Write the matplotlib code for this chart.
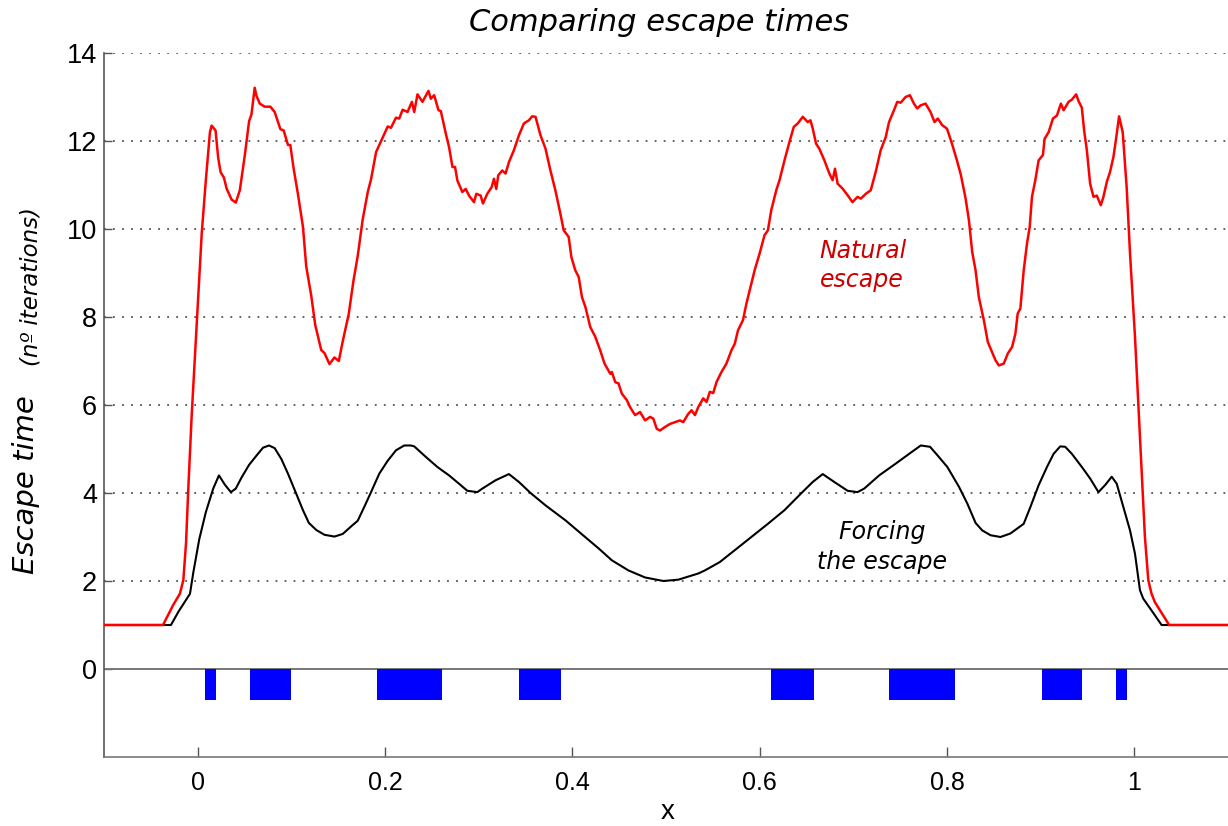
import matplotlib
matplotlib.use("Agg")
import matplotlib.pyplot as plt

# red curve: natural escape time
natural_x = [-0.100, -0.037, -0.026, -0.019, -0.0153, -0.0124, -0.0100, -0.0064, -0.0011, 0.0043,
             0.0088, 0.0131, 0.0149, 0.0191, 0.0219, 0.0245, 0.0280, 0.0309, 0.0362, 0.0407,
             0.0450, 0.0503, 0.0549, 0.0574, 0.0609, 0.0627, 0.0663, 0.0716, 0.0776, 0.0822,
             0.0883, 0.0918, 0.0964, 0.0989, 0.1024, 0.1070, 0.1124, 0.1159, 0.1213, 0.1255,
             0.1319, 0.1354, 0.1407, 0.1460, 0.1507, 0.1549, 0.1613, 0.1663, 0.1709, 0.1762,
             0.1816, 0.1851, 0.1905, 0.1958, 0.2029, 0.2064, 0.2117, 0.2152, 0.2188, 0.2241,
             0.2287, 0.2312, 0.2347, 0.2400, 0.2464, 0.2489, 0.2525, 0.2571, 0.2596, 0.2649,
             0.2684, 0.2720, 0.2748, 0.2773, 0.2826, 0.2862, 0.2897, 0.2950, 0.2975, 0.3021,
             0.3046, 0.3092, 0.3138, 0.3163, 0.3188, 0.3209, 0.3252, 0.3287, 0.3323, 0.3376,
             0.3430, 0.3483, 0.3536, 0.3571, 0.3607, 0.3660, 0.3713, 0.3766, 0.3819, 0.3872,
             0.3908, 0.3961, 0.3990, 0.4032, 0.4068, 0.4103, 0.4139, 0.4192, 0.4245, 0.4298,
             0.4344, 0.4405, 0.4422, 0.4458, 0.4493, 0.4528, 0.4582, 0.4617, 0.4670, 0.4723,
             0.4777, 0.4830, 0.4865, 0.4901, 0.4936, 0.4989, 0.5043, 0.5096, 0.5149, 0.5184,
             0.5238, 0.5273, 0.5309, 0.5344, 0.5397, 0.5433, 0.5468, 0.5504, 0.5539, 0.5592,
             0.5645, 0.5698, 0.5734, 0.5769, 0.5822, 0.5858, 0.5911, 0.5946, 0.5999, 0.6052,
             0.6088, 0.6124, 0.6177, 0.6212, 0.6265, 0.6318, 0.6364, 0.6407, 0.6460, 0.6513,
             0.6542, 0.6567, 0.6602, 0.6638, 0.6691, 0.6744, 0.6779, 0.6804, 0.6832, 0.6885,
             0.6938, 0.6991, 0.7045, 0.7080, 0.7133, 0.7186, 0.7239, 0.7292, 0.7346, 0.7381,
             0.7434, 0.7469, 0.7505, 0.7558, 0.7604, 0.7647, 0.7682, 0.7718, 0.7771, 0.7824,
             0.7867, 0.7902, 0.7949, 0.8000, 0.8053, 0.8106, 0.8149, 0.8198, 0.8234, 0.8269,
             0.8305, 0.8340, 0.8393, 0.8436, 0.8482, 0.8517, 0.8553, 0.8606, 0.8649, 0.8695,
             0.8730, 0.8755, 0.8783, 0.8819, 0.8854, 0.8883, 0.8907, 0.8943, 0.8978, 0.9024,
             0.9042, 0.9085, 0.9131, 0.9174, 0.9216, 0.9245, 0.9298, 0.9333, 0.9379, 0.9404,
             0.9439, 0.9464, 0.9493, 0.9528, 0.9564, 0.9599, 0.9642, 0.9670, 0.9706, 0.9741,
             0.9777, 0.9805, 0.9837, 0.9876, 0.9918, 0.9954, 1.0007, 1.0060, 1.0113, 1.0149,
             1.0184, 1.0219, 1.0372, 1.100]
natural_y = [1.00, 1.00, 1.46, 1.71, 2.02, 2.87, 4.10, 5.76, 7.82, 9.89,
             11.13, 12.20, 12.35, 12.24, 11.62, 11.29, 11.17, 10.92, 10.67, 10.60,
             10.88, 11.67, 12.45, 12.60, 13.21, 13.03, 12.85, 12.78, 12.78, 12.66,
             12.27, 12.24, 11.91, 11.91, 11.38, 10.80, 10.05, 9.15, 8.48, 7.82,
             7.25, 7.18, 6.93, 7.08, 7.00, 7.45, 8.07, 8.82, 9.39, 10.22,
             10.84, 11.13, 11.75, 12.00, 12.33, 12.30, 12.53, 12.51, 12.71, 12.66,
             12.89, 12.66, 13.06, 12.89, 13.14, 12.96, 13.04, 12.70, 12.68, 12.17,
             11.86, 11.41, 11.41, 11.10, 10.84, 10.91, 10.76, 10.61, 10.80, 10.76,
             10.58, 10.80, 10.95, 11.14, 10.91, 11.22, 11.33, 11.26, 11.52, 11.79,
             12.13, 12.40, 12.47, 12.56, 12.55, 12.13, 11.83, 11.33, 10.88, 10.35,
             9.97, 9.82, 9.36, 9.06, 8.91, 8.45, 8.23, 7.77, 7.55, 7.24,
             6.94, 6.71, 6.75, 6.52, 6.49, 6.26, 6.11, 5.95, 5.77, 5.84,
             5.65, 5.73, 5.69, 5.46, 5.42, 5.50, 5.57, 5.61, 5.65, 5.61,
             5.80, 5.88, 5.77, 5.95, 6.15, 6.07, 6.30, 6.27, 6.52, 6.75,
             6.94, 7.24, 7.39, 7.70, 7.93, 8.30, 8.76, 9.06, 9.44, 9.86,
             9.97, 10.43, 10.88, 11.11, 11.56, 11.98, 12.32, 12.40, 12.55, 12.43,
             12.47, 12.28, 11.94, 11.82, 11.56, 11.26, 11.11, 11.37, 11.03, 10.92,
             10.77, 10.61, 10.73, 10.69, 10.80, 10.88, 11.30, 11.79, 12.09, 12.43,
             12.70, 12.89, 12.87, 13.00, 13.04, 12.85, 12.74, 12.81, 12.85, 12.66,
             12.43, 12.51, 12.36, 12.28, 11.94, 11.56, 11.22, 10.70, 10.20, 9.48,
             9.06, 8.45, 7.93, 7.43, 7.20, 7.02, 6.90, 6.94, 7.17, 7.32,
             7.62, 8.08, 8.19, 9.06, 9.67, 10.05, 10.73, 11.11, 11.56, 11.68,
             12.05, 12.20, 12.51, 12.58, 12.85, 12.70, 12.89, 12.94, 13.06, 12.91,
             12.76, 12.24, 11.79, 11.03, 10.73, 10.76, 10.54, 10.73, 11.07, 11.30,
             11.64, 12.05, 12.56, 12.20, 10.95, 9.44, 7.55, 5.27, 3.00, 2.02,
             1.71, 1.52, 1.00, 1.00]

# black curve: forced escape time
forced_x = [-0.100, -0.0285, -0.0206, -0.0082, -0.0046, 0.0017, 0.0088, 0.0166, 0.0227, 0.0290,
            0.0354, 0.0407, 0.0468, 0.0549, 0.0628, 0.0698, 0.0762, 0.0822, 0.0894, 0.0964,
            0.1053, 0.1124, 0.1187, 0.1266, 0.1354, 0.1461, 0.1549, 0.1638, 0.1709, 0.1780,
            0.1851, 0.1939, 0.2028, 0.2117, 0.2205, 0.2276, 0.2312, 0.2436, 0.2560, 0.2684,
            0.2791, 0.2879, 0.2986, 0.3039, 0.3181, 0.3323, 0.3430, 0.3554, 0.3713, 0.3926,
            0.4103, 0.4281, 0.4422, 0.4599, 0.4777, 0.4972, 0.5131, 0.5344, 0.5415, 0.5574,
            0.5734, 0.5911, 0.6088, 0.6265, 0.6442, 0.6566, 0.6673, 0.6797, 0.6939, 0.7045,
            0.7116, 0.7276, 0.7454, 0.7596, 0.7720, 0.7819, 0.7897, 0.8004, 0.8128, 0.8217,
            0.8305, 0.8376, 0.8465, 0.8571, 0.8677, 0.8819, 0.8890, 0.8979, 0.9067, 0.9138,
            0.9209, 0.9262, 0.9333, 0.9440, 0.9528, 0.9617, 0.9688, 0.9759, 0.9812, 0.9883,
            0.9954, 1.0007, 1.0060, 1.0095, 1.0184, 1.0291, 1.100]
forced_y = [1.00, 1.00, 1.30, 1.71, 2.20, 2.95, 3.57, 4.10, 4.40, 4.19,
            4.02, 4.10, 4.35, 4.64, 4.85, 5.03, 5.08, 5.02, 4.77, 4.44,
            3.98, 3.61, 3.32, 3.16, 3.05, 3.01, 3.07, 3.24, 3.37, 3.69,
            4.02, 4.44, 4.73, 4.97, 5.08, 5.08, 5.06, 4.82, 4.59, 4.40,
            4.21, 4.05, 4.02, 4.10, 4.29, 4.43, 4.25, 4.00, 3.72, 3.38,
            3.06, 2.74, 2.47, 2.24, 2.08, 2.00, 2.03, 2.17, 2.24, 2.43,
            2.70, 3.00, 3.30, 3.61, 3.99, 4.25, 4.43, 4.25, 4.05, 4.02,
            4.10, 4.40, 4.67, 4.89, 5.08, 5.05, 4.86, 4.59, 4.14, 3.76,
            3.32, 3.15, 3.04, 3.00, 3.08, 3.30, 3.68, 4.18, 4.59, 4.89,
            5.06, 5.05, 4.89, 4.59, 4.33, 4.02, 4.18, 4.37, 4.21, 3.68,
            3.15, 2.62, 1.79, 1.60, 1.33, 1.00, 1.00]

# blue intervals under the axis
band_start = [0.0077, 0.0556, 0.1918, 0.3428, 0.6124, 0.7386, 0.9009, 0.9805]
band_end = [0.0195, 0.0992, 0.2610, 0.3880, 0.6585, 0.8084, 0.9444, 0.9925]
band_depth = -0.7

x_ticks = [0, 0.2, 0.4, 0.6, 0.8, 1]
x_tick_labels = ["0", "0.2", "0.4", "0.6", "0.8", "1"]
y_ticks = [0, 2, 4, 6, 8, 10, 12, 14]

# no handwriting font available, oblique DejaVu is the closest in width
hand = "DejaVu Sans"
axis_grey = "#555555"

fig = plt.figure(figsize=(12.28, 8.26), dpi=100)
ax = fig.add_axes([104 / 1228, 69 / 826, 1 - 104 / 1228, (757 - 53) / 826])

# dotted grid lines (not at zero, which is a solid line)
for yv in y_ticks[1:]:
    ax.axhline(yv, color=axis_grey, lw=1.3, linestyle=(0, (1, 4)), zorder=1)
ax.axhline(0, color="#777777", lw=1.4, zorder=2)

# blue bars
widths = [e - s for s, e in zip(band_start, band_end)]
ax.bar(band_start, [band_depth] * len(band_start), width=widths, align="edge",
       color="#0000ff", edgecolor="none", zorder=3)

ax.plot(forced_x, forced_y, color="black", lw=1.5, zorder=4)
ax.plot(natural_x, natural_y, color="#ff0000", lw=1.8, zorder=5)

ax.set_xlim(-0.1, 1.1)
ax.set_ylim(-2, 14)
ax.set_xticks(x_ticks)
ax.set_xticklabels(x_tick_labels, fontname="Liberation Sans", fontsize=18)
ax.set_yticks(y_ticks)
ax.set_yticklabels([str(v) for v in y_ticks], fontname="Liberation Sans", fontsize=19.5)
ax.tick_params(axis="x", direction="in", length=7, width=1, color=axis_grey, pad=10)
ax.tick_params(axis="y", direction="in", length=6, width=1, color=axis_grey, pad=5)

for side in ["top", "right"]:
    ax.spines[side].set_visible(False)
ax.spines["left"].set_color(axis_grey)
ax.spines["bottom"].set_color("#777777")
ax.spines["left"].set_linewidth(1.2)
ax.spines["bottom"].set_linewidth(1.2)

# annotations
ax.text(0.664, 9.17, "Natural\nescape", color="#cc0000", fontsize=17, family=hand,
        style="oblique", ha="left", va="center", linespacing=1.3)
ax.text(0.731, 2.77, "Forcing\nthe escape", color="black", fontsize=17, family=hand,
        style="oblique", ha="center", va="center", linespacing=1.3)

# title and axis labels
fig.text(659 / 1228, 1 - 31 / 826, "Comparing escape times", fontsize=22, family=hand,
         style="oblique", ha="center", va="baseline")
fig.text(668 / 1228, 1 - 819 / 826, "x", fontname="Liberation Sans", fontsize=20,
         ha="center", va="baseline")
fig.text(26 / 1228, 1 - 485 / 826, "Escape time", fontsize=21, family=hand, style="oblique",
         rotation=90, ha="center", va="center")
fig.text(31 / 1228, 1 - 287 / 826, "(nº iterations)", fontsize=16.5, family=hand,
         style="oblique", rotation=90, ha="center", va="center")

fig.savefig("out.png", dpi=100)
